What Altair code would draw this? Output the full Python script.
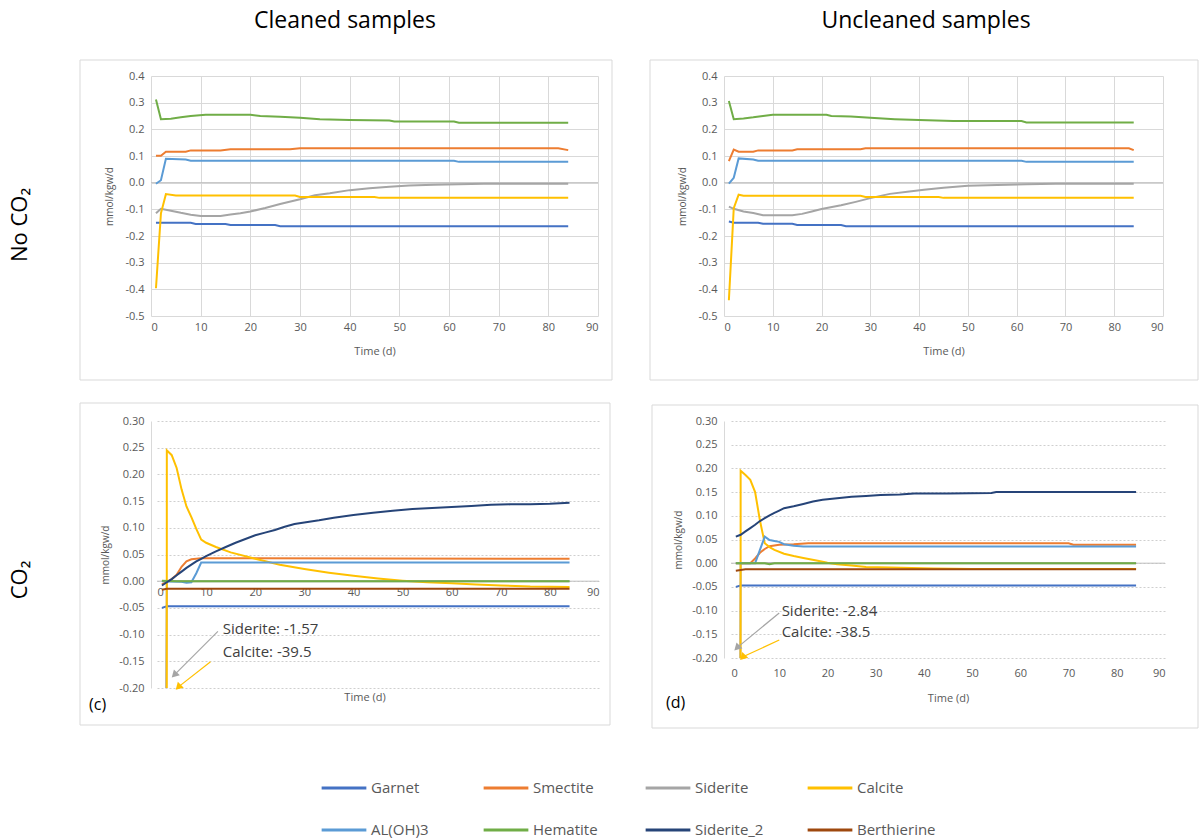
import altair as alt
import pandas as pd

SERIES = ["Garnet", "Smectite", "Siderite", "Calcite", "AL(OH)3", "Hematite", "Siderite_2", "Berthierine"]
COLORS = ["#4472C4", "#ED7D31", "#A5A5A5", "#FFC000", "#5B9BD5", "#70AD47", "#264478", "#9E480E"]

X_TICKS = [0, 10, 20, 30, 40, 50, 60, 70, 80, 90]
Y_TICKS_TOP = [-0.5, -0.4, -0.3, -0.2, -0.1, 0.0, 0.1, 0.2, 0.3, 0.4]
Y_TICKS_BOT = [-0.20, -0.15, -0.10, -0.05, 0.0, 0.05, 0.10, 0.15, 0.20, 0.25, 0.30]

# ---------------- (a) Cleaned samples, No CO2 ----------------
a_garnet = [(1, -0.150), (8, -0.150), (9, -0.155), (15, -0.155), (16, -0.159), (25, -0.159), (26, -0.163), (84, -0.163)]
a_smectite = [(1, 0.101), (2, 0.101), (3, 0.116), (7, 0.116), (8, 0.121), (14, 0.121), (16, 0.125), (28, 0.125),
              (30, 0.129), (82, 0.129), (84, 0.122)]
a_siderite = [(1, -0.115), (2, -0.098), (4, -0.105), (6, -0.113), (8, -0.120), (10, -0.125), (14, -0.125), (16, -0.119),
              (18, -0.115), (20, -0.108), (23, -0.095), (26, -0.080), (30, -0.062), (33, -0.047), (36, -0.040),
              (40, -0.028), (44, -0.021), (48, -0.015), (52, -0.011), (57, -0.008), (62, -0.006), (67, -0.004),
              (84, -0.004)]
a_calcite = [(1, -0.396), (2, -0.115), (3, -0.043), (5, -0.048), (29, -0.048), (30, -0.054), (45, -0.054),
             (46, -0.057), (84, -0.057)]
a_aloh3 = [(1, -0.004), (2, 0.009), (3, 0.090), (7, 0.087), (8, 0.082), (61, 0.082), (62, 0.078), (84, 0.078)]
a_hematite = [(1, 0.312), (2, 0.238), (4, 0.240), (6, 0.245), (8, 0.250), (11, 0.255), (20, 0.255), (22, 0.250),
              (26, 0.247), (30, 0.243), (34, 0.238), (40, 0.235), (48, 0.233), (49, 0.229), (61, 0.229),
              (62, 0.225), (84, 0.225)]

# ---------------- (b) Uncleaned samples, No CO2 ----------------
b_garnet = [(1, -0.146), (2, -0.150), (7, -0.150), (8, -0.154), (14, -0.154), (15, -0.159), (24, -0.159),
            (25, -0.163), (84, -0.163)]
b_smectite = [(1, 0.081), (2, 0.124), (3, 0.116), (6, 0.116), (7, 0.121), (14, 0.121), (15, 0.125), (28, 0.125),
              (29, 0.129), (83, 0.129), (84, 0.122)]
b_siderite = [(1, -0.090), (2, -0.098), (4, -0.108), (6, -0.114), (8, -0.122), (14, -0.122), (16, -0.117),
              (18, -0.108), (20, -0.099), (24, -0.085), (27, -0.072), (30, -0.058), (34, -0.042), (38, -0.033),
              (41, -0.027), (45, -0.019), (50, -0.012), (56, -0.009), (62, -0.006), (68, -0.004), (84, -0.004)]
b_calcite = [(1, -0.441), (2, -0.096), (3, -0.045), (4, -0.049), (28, -0.049), (29, -0.054), (44, -0.054),
             (45, -0.057), (84, -0.057)]
b_aloh3 = [(1, -0.004), (2, 0.018), (3, 0.091), (6, 0.087), (7, 0.082), (61, 0.082), (62, 0.078), (84, 0.078)]
b_hematite = [(1, 0.306), (2, 0.238), (4, 0.241), (6, 0.245), (8, 0.250), (10, 0.255), (21, 0.255), (22, 0.250),
              (26, 0.248), (30, 0.243), (35, 0.238), (40, 0.235), (47, 0.231), (61, 0.231), (62, 0.226), (84, 0.226)]

# ---------------- (c) Cleaned samples, CO2 ----------------
c_garnet = [(1, -0.050), (2, -0.047), (84, -0.047)]
c_smectite = [(1, -0.006), (3, 0.004), (4, 0.012), (5, 0.027), (6, 0.037), (7, 0.041), (9, 0.043), (84, 0.042)]
c_siderite = [(1, -1.57), (2, 0.0), (84, 0.0)]
c_calcite = [(1, -39.5), (2, 0.245), (3, 0.236), (4, 0.212), (5, 0.172), (6, 0.140), (7, 0.120), (8, 0.098),
             (9, 0.078), (10, 0.072), (12, 0.064), (15, 0.054), (20, 0.042), (25, 0.031), (30, 0.023), (35, 0.016),
             (40, 0.010), (45, 0.005), (50, 0.001), (55, -0.002), (60, -0.004), (65, -0.006), (70, -0.008),
             (76, -0.010), (84, -0.011)]
c_aloh3 = [(1, 0.0), (5, -0.001), (6, -0.003), (7, -0.002), (8, 0.015), (9, 0.035), (84, 0.035)]
c_hematite = [(1, 0.001), (4, 0.0), (84, 0.0)]
c_siderite2 = [(1, -0.008), (2, -0.002), (3, 0.004), (4, 0.011), (5, 0.018), (6, 0.025), (7, 0.031), (8, 0.037),
               (9, 0.042), (10, 0.047), (12, 0.056), (14, 0.064), (16, 0.072), (18, 0.079), (20, 0.086),
               (22, 0.091), (24, 0.096), (26, 0.102), (28, 0.107), (30, 0.110), (33, 0.114), (36, 0.119),
               (40, 0.124), (44, 0.128), (48, 0.132), (52, 0.135), (56, 0.137), (60, 0.139), (64, 0.141),
               (68, 0.143), (72, 0.144), (76, 0.144), (80, 0.145), (84, 0.147)]
c_berthierine = [(1, -0.016), (2, -0.014), (84, -0.014)]

# ---------------- (d) Uncleaned samples, CO2 ----------------
d_garnet = [(1, -0.050), (2, -0.047), (84, -0.047)]
d_smectite = [(1, 0.0), (4, 0.0), (5, 0.010), (6, 0.022), (7, 0.030), (8, 0.036), (10, 0.039), (13, 0.040),
              (16, 0.042), (70, 0.042), (71, 0.039), (84, 0.039)]
d_siderite = [(1, -2.84), (2, 0.0), (84, 0.0)]
d_calcite = [(1, -38.5), (2, 0.195), (3, 0.186), (4, 0.176), (5, 0.150), (6, 0.090), (7, 0.042), (8, 0.034),
             (9, 0.028), (11, 0.020), (13, 0.015), (15, 0.011), (18, 0.005), (20, 0.001), (22, -0.002),
             (25, -0.005), (28, -0.008), (33, -0.009), (42, -0.011), (50, -0.012), (84, -0.012)]
d_aloh3 = [(1, 0.0), (5, 0.0), (6, 0.028), (7, 0.056), (8, 0.049), (9, 0.047), (10, 0.045), (11, 0.040),
           (13, 0.037), (15, 0.035), (84, 0.035)]
d_hematite = [(1, 0.0), (7, 0.0), (8, -0.002), (9, 0.0), (84, 0.0)]
d_siderite2 = [(1, 0.056), (2, 0.060), (3, 0.067), (4, 0.074), (5, 0.081), (6, 0.089), (7, 0.095), (8, 0.101),
               (9, 0.106), (10, 0.111), (11, 0.116), (13, 0.120), (15, 0.125), (17, 0.130), (19, 0.134),
               (22, 0.137), (25, 0.140), (28, 0.142), (31, 0.144), (35, 0.145), (38, 0.147), (45, 0.147),
               (54, 0.148), (55, 0.150), (84, 0.150)]
d_berthierine = [(1, -0.016), (3, -0.013), (84, -0.013)]

# annotation texts and arrows for the CO2 panels
c_notes = [(13.4, -0.090, "Siderite: -1.57"), (13.4, -0.132, "Calcite: -39.5")]
c_arrows = [(12.4, -0.094, 3.7, -0.174, "#A5A5A5"), (10.9, -0.151, 4.5, -0.197, "#FFC000")]
d_notes = [(10.5, -0.101, "Siderite: -2.84"), (10.5, -0.145, "Calcite: -38.5")]
d_arrows = [(10.0, -0.105, 1.4, -0.177, "#A5A5A5"), (10.0, -0.162, 2.6, -0.197, "#FFC000")]

FONT = "Open Sans"
GRAY = "#595959"


def frame(series_map):
    rows = []
    for name, pts in series_map.items():
        for t, v in pts:
            rows.append({"series": name, "t": t, "v": v})
    return pd.DataFrame(rows)


df_a = frame({"Garnet": a_garnet, "Smectite": a_smectite, "Siderite": a_siderite, "Calcite": a_calcite,
              "AL(OH)3": a_aloh3, "Hematite": a_hematite})
df_b = frame({"Garnet": b_garnet, "Smectite": b_smectite, "Siderite": b_siderite, "Calcite": b_calcite,
              "AL(OH)3": b_aloh3, "Hematite": b_hematite})
df_c = frame({"Garnet": c_garnet, "Smectite": c_smectite, "Siderite": c_siderite, "Calcite": c_calcite,
              "AL(OH)3": c_aloh3, "Hematite": c_hematite, "Siderite_2": c_siderite2,
              "Berthierine": c_berthierine})
df_d = frame({"Garnet": d_garnet, "Smectite": d_smectite, "Siderite": d_siderite, "Calcite": d_calcite,
              "AL(OH)3": d_aloh3, "Hematite": d_hematite, "Siderite_2": d_siderite2,
              "Berthierine": d_berthierine})

DECO = pd.DataFrame({"k": [0]})

LEGEND = alt.Legend(orient="none", legendX=169, legendY=688, columns=4, direction="horizontal", title=None,
                    symbolType="stroke", symbolSize=2000, symbolStrokeWidth=3, labelFont=FONT, labelFontSize=15,
                    labelColor=GRAY, labelOffset=3, columnPadding=27, rowPadding=10, gridAlign="all",
                    labelLimit=300)
CSCALE = alt.Scale(domain=SERIES, range=COLORS)


def text_layer(txt, x, y, size, color="#000000", angle=0, align="center"):
    mk = dict(text=txt, font=FONT, fontSize=size, color=color, align=align, baseline="middle")
    if angle:
        mk["angle"] = angle
    return alt.Chart(DECO).mark_text(**mk).encode(x=alt.value(x), y=alt.value(y))


def panel(df, width, height, xrange, ydom, yticks, yfmt, top, box, texts, axis_offset=0,
          notes=None, arrows=None, x_title_inside=False, xlab_pad=5, xtitle_pad=13):
    xs = alt.Scale(domain=[0, 90], range=xrange, nice=False, zero=False)
    ys = alt.Scale(domain=ydom, nice=False, zero=False)
    lab = "replace(format(datum.value, '" + yfmt + "'), '\u2212', '-')"
    if top:
        xaxis = alt.Axis(values=X_TICKS, grid=True, gridColor="#d9d9d9", domain=False, ticks=False,
                         labelFont=FONT, labelFontSize=11, labelColor=GRAY, labelPadding=xlab_pad,
                         title="Time (d)", titleFont=FONT, titleFontSize=11, titleFontWeight="normal",
                         titleColor=GRAY, titlePadding=xtitle_pad)
        yaxis = alt.Axis(values=yticks, labelExpr=lab, grid=True, gridColor="#d9d9d9", domain=False,
                         ticks=False, labelFont=FONT, labelFontSize=11, labelColor=GRAY, labelPadding=7,
                         title="mmol/kgw/d", titleFont=FONT, titleFontSize=10, titleFontWeight="normal",
                         titleColor=GRAY, titlePadding=10)
    else:
        xkw = dict(values=X_TICKS, grid=False, domain=False, ticks=False, labelFont=FONT, labelFontSize=11,
                   labelColor=GRAY, labelPadding=xlab_pad)
        if x_title_inside:
            xaxis = alt.Axis(offset=axis_offset, title=None, **xkw)
        else:
            xaxis = alt.Axis(title="Time (d)", titleFont=FONT, titleFontSize=11, titleFontWeight="normal",
                             titleColor=GRAY, titlePadding=xtitle_pad, **xkw)
        yaxis = alt.Axis(values=yticks, labelExpr=lab, grid=True, gridColor="#cfcfcf", gridDash=[2, 2],
                         domain=True, domainColor="#d9d9d9", ticks=False, labelFont=FONT, labelFontSize=11,
                         labelColor=GRAY, labelPadding=7, title="mmol/kgw/d", titleFont=FONT,
                         titleFontSize=10, titleFontWeight="normal", titleColor=GRAY, titlePadding=8)

    X = lambda f: alt.X(f, type="quantitative", scale=xs, axis=xaxis)
    Y = lambda f: alt.Y(f, type="quantitative", scale=ys, axis=yaxis)

    layers = []
    bx0, bx1, by0, by1 = box
    layers.append(alt.Chart(DECO).mark_rect(fill="white", fillOpacity=0, stroke="#d9d9d9", strokeWidth=1)
                  .encode(x=alt.value(bx0), x2=alt.value(bx1), y=alt.value(by0), y2=alt.value(by1)))
    zero = pd.DataFrame({"t0": [0], "t1": [90], "v": [0.0]})
    layers.append(alt.Chart(zero).mark_rule(color="#bfbfbf", strokeWidth=1)
                  .encode(x=X("t0"), x2="t1", y=Y("v")))
    layers.append(alt.Chart(df).mark_line(clip=True, strokeWidth=2)
                  .encode(x=X("t"), y=Y("v"),
                          color=alt.Color("series:N", scale=CSCALE, legend=LEGEND)))
    if arrows:
        adf = pd.DataFrame(arrows, columns=["t", "v", "t2", "v2", "c"])
        layers.append(alt.Chart(adf).mark_rule(strokeWidth=1.2)
                      .encode(x=X("t"), y=Y("v"), x2="t2", y2="v2", color=alt.Color("c:N", scale=None)))
        layers.append(alt.Chart(adf).mark_point(shape="triangle", filled=True, opacity=1, size=70, angle=225)
                      .encode(x=X("t2"), y=Y("v2"), color=alt.Color("c:N", scale=None)))
    if notes:
        ndf = pd.DataFrame(notes, columns=["t", "v", "label"])
        layers.append(alt.Chart(ndf).mark_text(font=FONT, fontSize=15, color="#404040", align="left",
                                               baseline="middle")
                      .encode(x=X("t"), y=Y("v"), text="label:N"))
    for t in texts:
        layers.append(t)
    return alt.layer(*layers).properties(width=width, height=height)


# layout (cell origins: column 1 at x=151, column 2 at x=724; row 1 at y=76, row 2 at y=421)
anchor = (alt.Chart(DECO).mark_rect(opacity=0)
          .encode(x=alt.value(-151), x2=alt.value(0), y=alt.value(-76), y2=alt.value(0)))

tl = panel(df_a, 448, 240, [0, 447], [-0.5, 0.4], Y_TICKS_TOP, ".1f", True, (-71, 461, -16, 304),
           [anchor,
            text_layer("Cleaned samples", 194, -55, 23),
            text_layer("No CO\u2082", -131, 149, 22, angle=270)])
tr = panel(df_b, 441, 240, [0, 439], [-0.5, 0.4], Y_TICKS_TOP, ".1f", True, (-74, 474, -16, 304),
           [text_layer("Uncleaned samples", 202, -55, 23)])
bl = panel(df_c, 448, 267, [6, 448], [-0.2, 0.3], Y_TICKS_BOT, ".2f", False, (-71, 459, -18, 304),
           [text_layer("CO\u2082", -131, 159, 22, angle=270),
            text_layer("Time (d)", 214, 277, 11, color=GRAY),
            text_layer("(c)", -62, 284, 16, align="left")],
           axis_offset=-107, notes=c_notes, arrows=c_arrows, x_title_inside=True)
br = panel(df_d, 441, 237, [7, 441], [-0.2, 0.3], Y_TICKS_BOT, ".2f", False, (-72, 474, -16, 307),
           [text_layer("(d)", -58, 282, 16, align="left")],
           notes=d_notes, arrows=d_arrows, xlab_pad=9, xtitle_pad=14)

chart = (alt.concat(tl, tr, bl, br, columns=2, spacing={"row": 105, "column": 125}, bounds="flush",
                    align="each")
         .properties(padding=0, background="white")
         .configure_view(stroke=None))

chart.save("out.html", embed_options={"renderer": "svg", "actions": False})
